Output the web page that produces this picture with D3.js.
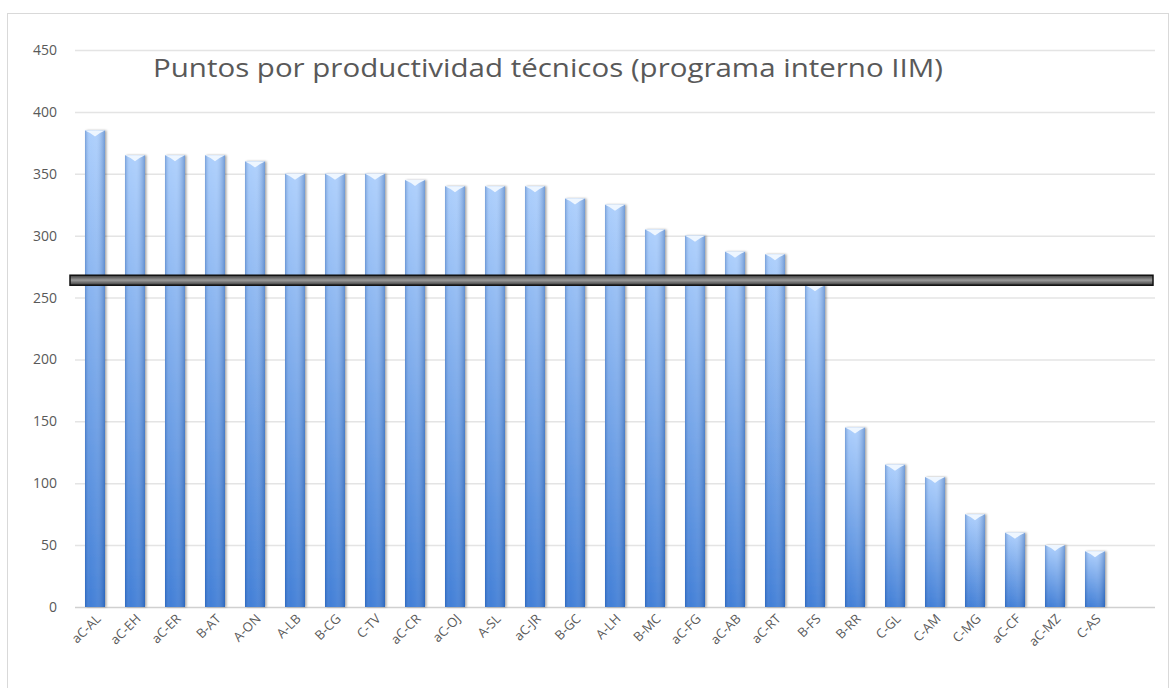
<!DOCTYPE html>
<html>
<head>
<meta charset="utf-8">
<script src="https://cdn.jsdelivr.net/npm/d3@7"></script>
<style>
  body { margin: 0; background: #fff; }
  #wrap { position: relative; width: 1170px; height: 688px; overflow: hidden; }
  svg { display: block; position: absolute; left: 0; top: 0; }
  .xlab {
    position: absolute;
    font-family: "Open Sans", "Noto Sans", sans-serif;
    font-size: 13px;
    line-height: 13px;
    color: #595959;
    white-space: nowrap;
    transform-origin: 100% 100%;
    transform: translate(-100%, -100%) rotate(-45deg);
  }
</style>
</head>
<body>
<div id="wrap"><svg id="chart" width="1170" height="688"></svg></div>
<script>
// data
const categories = ['aC-AL', 'aC-EH', 'aC-ER', 'B-AT', 'A-ON', 'A-LB', 'B-CG', 'C-TV', 'aC-CR', 'aC-OJ',
  'A-SL', 'aC-JR', 'B-GC', 'A-LH', 'B-MC', 'aC-FG', 'aC-AB', 'aC-RT', 'B-FS', 'B-RR',
  'C-GL', 'C-AM', 'C-MG', 'aC-CF', 'aC-MZ', 'C-AS'];
const points = [385, 365, 365, 365, 360, 350, 350, 350, 345, 340,
  340, 340, 330, 325, 305, 300, 287, 285, 260, 145,
  115, 105, 75, 60, 50, 45];
const yTicks = [0, 50, 100, 150, 200, 250, 300, 350, 400, 450];
const threshold = 264;
const title = 'Puntos por productividad técnicos (programa interno IIM)';

const font = '"Open Sans", "Noto Sans", sans-serif';
const svg = d3.select('#chart');
const margin = { left: 75, top: 50, right: 55, bottom: 81 };
const plotRight = 1115;   // last category slot ends here
const gridRight = 1155;   // gridlines run a bit further
const y0 = 688 - margin.bottom;

// chart frame
svg.append('rect')
  .attr('x', 7.5).attr('y', 13.5)
  .attr('width', 1170 - 9).attr('height', 688)
  .attr('fill', 'none').attr('stroke', '#d9d9d9');

const x = d3.scaleBand()
  .domain(categories)
  .range([margin.left, plotRight])
  .paddingInner(0.5)
  .paddingOuter(0.25);

const y = d3.scaleLinear()
  .domain([0, 450])
  .range([y0, margin.top]);

// gradients
const defs = svg.append('defs');
const vGrad = defs.append('linearGradient').attr('id', 'barV')
  .attr('x1', 0).attr('y1', 0).attr('x2', 0).attr('y2', 1);
vGrad.append('stop').attr('offset', '0%').attr('stop-color', '#a6cbfc');
vGrad.append('stop').attr('offset', '100%').attr('stop-color', '#3274d3');

const hGrad = defs.append('linearGradient').attr('id', 'barH')
  .attr('x1', 0).attr('y1', 0).attr('x2', 1).attr('y2', 0);
hGrad.append('stop').attr('offset', '0%').attr('stop-color', '#1f4f99').attr('stop-opacity', 0.35);
hGrad.append('stop').attr('offset', '25%').attr('stop-color', '#ffffff').attr('stop-opacity', 0.08);
hGrad.append('stop').attr('offset', '55%').attr('stop-color', '#ffffff').attr('stop-opacity', 0.12);
hGrad.append('stop').attr('offset', '100%').attr('stop-color', '#1f4f99').attr('stop-opacity', 0.4);

const shadow = defs.append('filter').attr('id', 'shadow')
  .attr('x', '-30%').attr('y', '-10%').attr('width', '160%').attr('height', '120%');
shadow.append('feDropShadow').attr('dx', 1.5).attr('dy', 0).attr('stdDeviation', 1.2)
  .attr('flood-color', '#000').attr('flood-opacity', 0.35);

const lineGrad = defs.append('linearGradient').attr('id', 'lineG')
  .attr('x1', 0).attr('y1', 0).attr('x2', 0).attr('y2', 1);
lineGrad.append('stop').attr('offset', '0%').attr('stop-color', '#3a3a3a');
lineGrad.append('stop').attr('offset', '50%').attr('stop-color', '#9a9a9a');
lineGrad.append('stop').attr('offset', '100%').attr('stop-color', '#3a3a3a');

// gridlines
svg.append('g')
  .selectAll('line')
  .data(yTicks)
  .join('line')
  .attr('x1', margin.left).attr('x2', gridRight)
  .attr('y1', d => y(d) + 0.5).attr('y2', d => y(d) + 0.5)
  .attr('stroke', d => d === 0 ? '#d0d0d0' : '#e4e4e4')
  .attr('stroke-width', 1.5);

// y axis labels
const yAxisG = svg.append('g')
  .attr('transform', `translate(${margin.left - 8},0)`)
  .call(d3.axisLeft(y).tickValues(yTicks).tickSize(0).tickPadding(10));
yAxisG.select('.domain').remove();
yAxisG.selectAll('text')
  .attr('font-family', font)
  .attr('font-size', 14)
  .attr('fill', '#595959');

// bars
const bars = svg.append('g').selectAll('g.bar')
  .data(categories.map((c, i) => ({ cat: c, val: points[i] })))
  .join('g').attr('class', 'bar');

bars.append('rect')
  .attr('x', d => x(d.cat))
  .attr('y', d => y(d.val))
  .attr('width', x.bandwidth())
  .attr('height', d => y0 - y(d.val))
  .attr('fill', 'url(#barV)')
  .attr('filter', 'url(#shadow)');

bars.append('rect')
  .attr('x', d => x(d.cat))
  .attr('y', d => y(d.val))
  .attr('width', x.bandwidth())
  .attr('height', d => y0 - y(d.val))
  .attr('fill', 'url(#barH)');

// light cap at the top of each bar
bars.append('path')
  .attr('d', d => {
    const bx = x(d.cat), by = y(d.val), w = x.bandwidth();
    return `M${bx},${by} L${bx + w},${by} Q${bx + w * 0.75},${by + 2} ${bx + w / 2},${by + 6} Q${bx + w * 0.25},${by + 2} ${bx},${by} Z`;
  })
  .attr('fill', '#eef6ff');

// x labels as html, rotated 45 degrees, ending just right of the bar centre
d3.select('#wrap').selectAll('div.xlab')
  .data(categories)
  .join('div')
  .attr('class', 'xlab')
  .style('left', d => (x(d) + x.bandwidth() / 2 + 8) + 'px')
  .style('top', (y0 + 14) + 'px')
  .text(d => d);

// threshold line
svg.append('rect')
  .attr('x', 70).attr('y', y(threshold) - 5)
  .attr('width', gridRight - 2 - 70).attr('height', 10)
  .attr('fill', 'url(#lineG)')
  .attr('stroke', '#111').attr('stroke-width', 1.5);

// title
svg.append('text')
  .attr('x', 153).attr('y', 77)
  .attr('font-family', font)
  .attr('font-size', 26)
  .attr('fill', '#595959')
  .attr('textLength', 790)
  .attr('lengthAdjust', 'spacingAndGlyphs')
  .text(title);
</script>
</body>
</html>
